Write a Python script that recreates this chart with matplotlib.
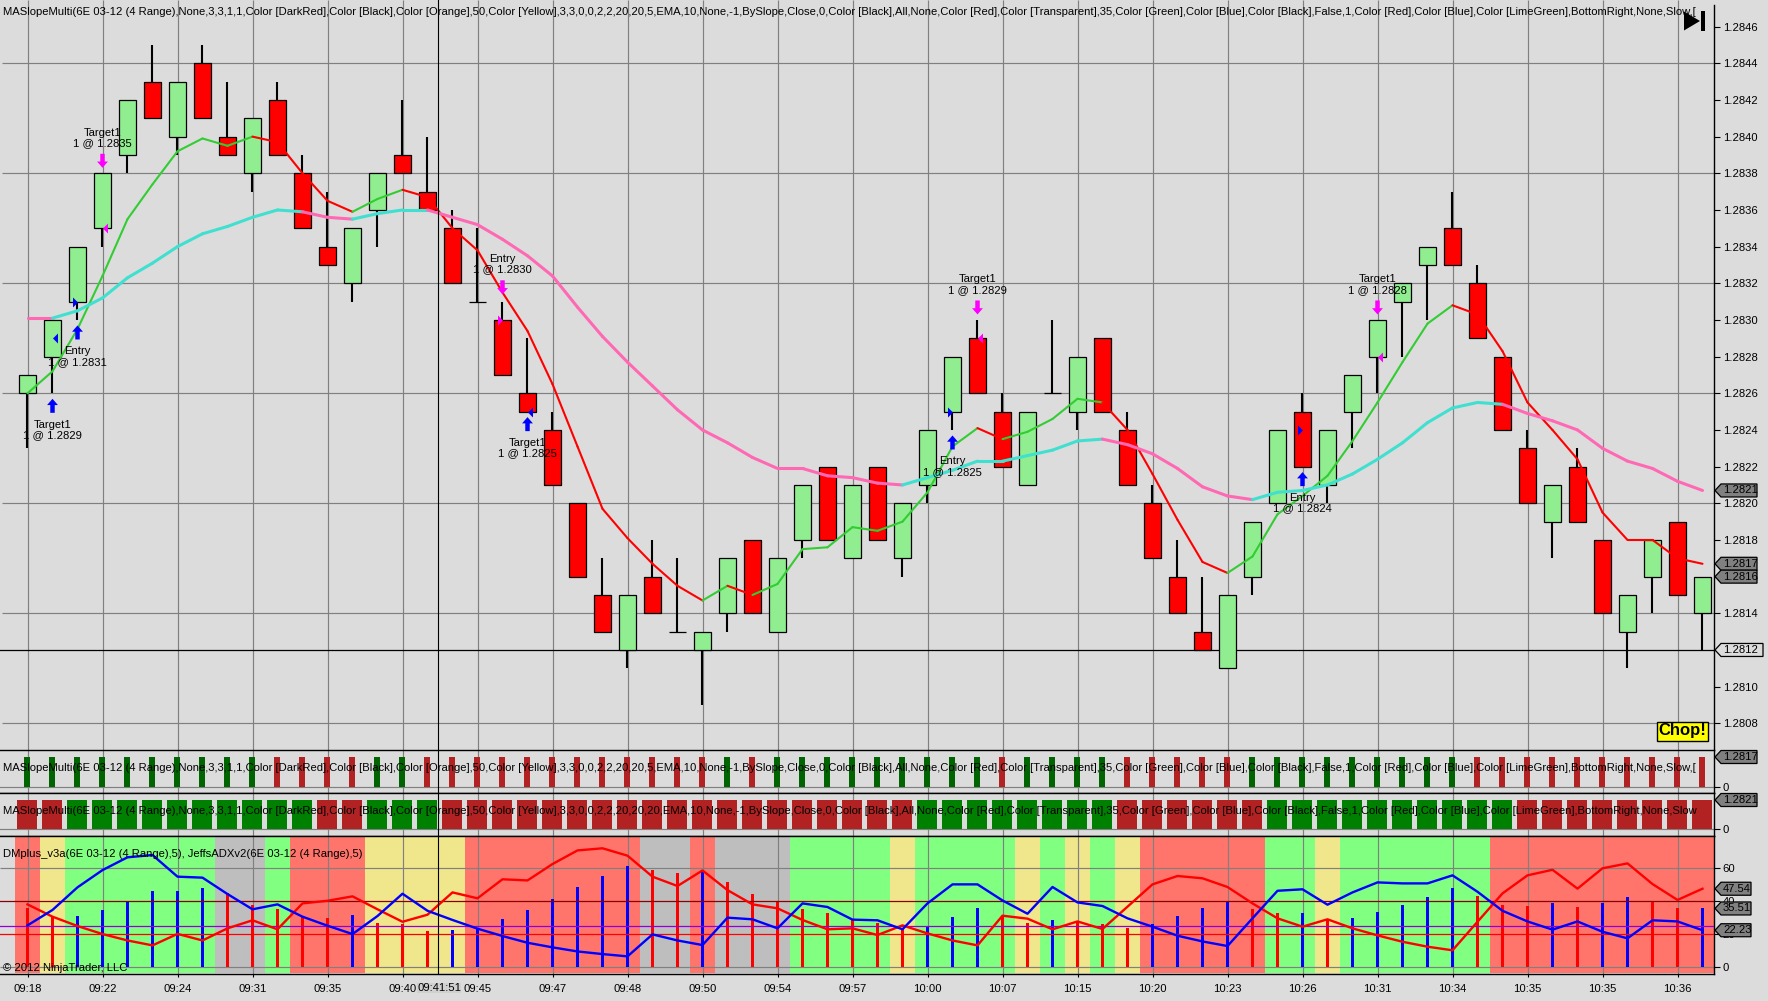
import numpy as np
import matplotlib
matplotlib.use('Agg')
import matplotlib.pyplot as plt
from matplotlib.patches import Polygon, Rectangle
from matplotlib.transforms import IdentityTransform

plt.rcParams['font.family'] = ['Liberation Sans', 'DejaVu Sans']
plt.rcParams['font.size'] = 8

# candles
opens = [1.2826, 1.2828, 1.2831, 1.2835, 1.2839, 1.2843, 1.2840, 1.2844, 1.2840, 1.2838, 1.2842, 1.2838,
         1.2834, 1.2832, 1.2836, 1.2839, 1.2837, 1.2835, 1.2831, 1.2830, 1.2826, 1.2824, 1.2820, 1.2815,
         1.2812, 1.2816, 1.2813, 1.2812, 1.2814, 1.2818, 1.2813, 1.2818, 1.2822, 1.2817, 1.2822, 1.2817,
         1.2821, 1.2825, 1.2829, 1.2825, 1.2821, 1.2826, 1.2825, 1.2829, 1.2824, 1.2820, 1.2816, 1.2813,
         1.2811, 1.2816, 1.2820, 1.2825, 1.2821, 1.2825, 1.2828, 1.2831, 1.2833, 1.2835, 1.2832, 1.2828,
         1.2823, 1.2819, 1.2822, 1.2818, 1.2813, 1.2816, 1.2819, 1.2814]
highs = [1.2827, 1.2830, 1.2834, 1.2838, 1.2842, 1.2845, 1.2843, 1.2845, 1.2843, 1.2841, 1.2843, 1.2839,
         1.2837, 1.2835, 1.2838, 1.2842, 1.2840, 1.2836, 1.2835, 1.2831, 1.2829, 1.2825, 1.2820, 1.2817,
         1.2815, 1.2818, 1.2817, 1.2813, 1.2817, 1.2818, 1.2817, 1.2821, 1.2822, 1.2821, 1.2822, 1.2820,
         1.2824, 1.2828, 1.2830, 1.2826, 1.2825, 1.2830, 1.2828, 1.2829, 1.2825, 1.2821, 1.2818, 1.2816,
         1.2815, 1.2819, 1.2824, 1.2826, 1.2824, 1.2827, 1.2830, 1.2832, 1.2834, 1.2837, 1.2833, 1.2828,
         1.2824, 1.2821, 1.2823, 1.2818, 1.2815, 1.2818, 1.2819, 1.2816]
lows = [1.2823, 1.2826, 1.2830, 1.2834, 1.2838, 1.2841, 1.2839, 1.2841, 1.2839, 1.2837, 1.2839, 1.2835,
        1.2833, 1.2831, 1.2834, 1.2838, 1.2836, 1.2832, 1.2831, 1.2827, 1.2825, 1.2821, 1.2816, 1.2813,
        1.2811, 1.2814, 1.2813, 1.2809, 1.2813, 1.2814, 1.2813, 1.2817, 1.2818, 1.2817, 1.2818, 1.2816,
        1.2820, 1.2824, 1.2826, 1.2822, 1.2821, 1.2826, 1.2824, 1.2825, 1.2821, 1.2817, 1.2814, 1.2812,
        1.2811, 1.2815, 1.2820, 1.2822, 1.2820, 1.2823, 1.2826, 1.2828, 1.2830, 1.2833, 1.2829, 1.2824,
        1.2820, 1.2817, 1.2819, 1.2814, 1.2811, 1.2814, 1.2815, 1.2812]
closes = [1.2827, 1.2830, 1.2834, 1.2838, 1.2842, 1.2841, 1.2843, 1.2841, 1.2839, 1.2841, 1.2839, 1.2835,
          1.2833, 1.2835, 1.2838, 1.2838, 1.2836, 1.2832, 1.2831, 1.2827, 1.2825, 1.2821, 1.2816, 1.2813,
          1.2815, 1.2814, 1.2813, 1.2813, 1.2817, 1.2814, 1.2817, 1.2821, 1.2818, 1.2821, 1.2818, 1.2820,
          1.2824, 1.2828, 1.2826, 1.2822, 1.2825, 1.2826, 1.2828, 1.2825, 1.2821, 1.2817, 1.2814, 1.2812,
          1.2815, 1.2819, 1.2824, 1.2822, 1.2824, 1.2827, 1.2830, 1.2832, 1.2834, 1.2833, 1.2829, 1.2824,
          1.2820, 1.2821, 1.2819, 1.2814, 1.2815, 1.2818, 1.2815, 1.2816]

# moving averages
fast_ma = [1.28260, 1.28272, 1.28295, 1.28324, 1.28355, 1.28374, 1.28392, 1.28399, 1.28395, 1.28400, 1.28397,
           1.28380, 1.28365, 1.28359, 1.28366, 1.28371, 1.28367, 1.28350, 1.28338, 1.28315, 1.28294, 1.28265,
           1.28231, 1.28197, 1.28181, 1.28167, 1.28155, 1.28147, 1.28155, 1.28150, 1.28156, 1.28175, 1.28176,
           1.28187, 1.28185, 1.28190, 1.28206, 1.28231, 1.28241, 1.28235, 1.28239, 1.28246, 1.28257, 1.28255,
           1.28240, 1.28216, 1.28191, 1.28168, 1.28162, 1.28171, 1.28194, 1.28204, 1.28215, 1.28234, 1.28255,
           1.28277, 1.28298, 1.28308, 1.28303, 1.28283, 1.28255, 1.28240, 1.28224, 1.28195, 1.28180, 1.28180,
           1.28170, 1.28167]
slow_ma = [1.28301, 1.28301, 1.28305, 1.28312, 1.28323, 1.28331, 1.28340, 1.28347, 1.28351, 1.28356, 1.28360,
           1.28359, 1.28356, 1.28355, 1.28358, 1.28360, 1.28360, 1.28356, 1.28352, 1.28344, 1.28335, 1.28324,
           1.28307, 1.28291, 1.28277, 1.28264, 1.28251, 1.28240, 1.28233, 1.28225, 1.28219, 1.28219, 1.28215,
           1.28214, 1.28211, 1.28210, 1.28214, 1.28218, 1.28223, 1.28223, 1.28226, 1.28229, 1.28234, 1.28235,
           1.28232, 1.28227, 1.28219, 1.28209, 1.28204, 1.28202, 1.28206, 1.28207, 1.28210, 1.28216, 1.28224,
           1.28233, 1.28244, 1.28252, 1.28255, 1.28254, 1.28249, 1.28245, 1.28240, 1.28230, 1.28223, 1.28219,
           1.28212, 1.28207]

# slope state per bar: U up, D down
fast_state = 'UUUUUUUUUUDDDDUUDDDDDDDDDDDDUDUUUUUUUUUDUUUUDDDDDUUUUUUUUUDDDDDDDDDD'
slow_state = 'DDUUUUUUUUUUDDUUUDDDDDDDDDDDDDDDDDDDUUUUUUUUDDDDDDUUUUUUUUUUDDDDDDDD'

# lower panel: R red, Y yellow, G green, S grey
band_state = 'RYGGGGGGSSGRRRYYYYRRRRRRRSSRSSSGGGGYGGGGYGYGYRRRRRGGYGGGGGGRRRRRRRRR'
di_red = [38, 30.5, 24.8, 19.9, 16, 13, 20, 16, 23.4, 28.3, 22.8, 38.6, 40.2, 42.9, 35, 27.4, 31.7, 45.3, 41.7,
          53.3, 52.6, 62.6, 70.9, 72.2, 67.7, 54.9, 49.2, 58.7, 46.7, 38, 35.6, 28.5, 22.8, 23.4, 19.3, 25.2,
          20.3, 16, 13, 31.1, 29.3, 22.8, 27.6, 23, 36.6, 50.2, 55.3, 53.9, 48.6, 38.6, 29.5, 24.4, 28.9, 23.4,
          19.1, 15.2, 12.2, 10, 27.4, 44.7, 55.7, 59.1, 47.6, 60, 63, 50.4, 40.7, 47.54]
di_blue = [25.2, 34.6, 48.4, 58.9, 66.7, 68.1, 54.9, 54.3, 44.3, 35, 38, 30.5, 25, 19.9, 30.9, 44.5, 34.1, 28.5,
           23.2, 18.7, 14.6, 11.8, 9.3, 7.7, 6.3, 19.7, 16, 13.2, 29.9, 28.9, 23.4, 38.6, 36.4, 28.7, 28.3, 22.8,
           38.6, 50.2, 50.2, 40.4, 32.3, 48.6, 39.2, 37, 29.5, 24.4, 18.9, 15.4, 12.6, 29.5, 46.3, 47.2, 37.8,
           45.3, 51.4, 50.8, 50.8, 55.7, 45.7, 34.1, 27.6, 22.6, 27.6, 21.3, 17.3, 28.3, 27.6, 22.23]
adx = [35.6, 30.5, 30.9, 34.6, 40.2, 46.1, 46.1, 48, 44.7, 37.6, 35.2, 30.1, 29.7, 31.5, 26.6, 26, 21.7, 22.4,
       23.4, 29.1, 34.6, 41.3, 48.6, 55.3, 61.4, 58.9, 56.9, 57.7, 51.4, 44.1, 39.2, 35.2, 32.5, 28.5, 26.4, 23.4,
       24, 30.1, 35.6, 31.1, 26.6, 28.3, 27.4, 25.8, 23.4, 25.8, 30.9, 35.6, 40.2, 35.2, 32.5, 32.5, 28.9, 29.5,
       33.3, 37.6, 42.3, 47.8, 42.9, 37.6, 37, 38.8, 36.4, 38.8, 42.3, 40, 35.8, 35.51]
adx_state = 'RRBBBBBBRRRRRBRRRBBBBBBBBRRBRRRRRRRRBBBRRBRRRBBBBRRBRBBBBBRRRBRBBRRB'

# fills on the chart
trade_bars = [1, 2, 3, 19, 20, 37, 38, 51, 54]
trade_prices = [1.28257, 1.28297, 1.28383, 1.28314, 1.28247, 1.28237, 1.28303, 1.28217, 1.28303]
trade_dirs = ['up', 'up', 'down', 'down', 'up', 'up', 'down', 'up', 'down']
trade_labels = ['Target1\n1 @ 1.2829', 'Entry\n1 @ 1.2831', 'Target1\n1 @ 1.2835', 'Entry\n1 @ 1.2830',
                'Target1\n1 @ 1.2825', 'Entry\n1 @ 1.2825', 'Target1\n1 @ 1.2829', 'Entry\n1 @ 1.2824',
                'Target1\n1 @ 1.2828']
exec_prices = [1.2829, 1.2831, 1.2835, 1.2830, 1.2825, 1.2825, 1.2829, 1.2824, 1.2828]
exec_sides = ['left', 'right', 'left', 'right', 'left', 'right', 'left', 'right', 'left']

time_labels = ['09:18', '09:22', '09:24', '09:31', '09:35', '09:40', '09:45', '09:47', '09:48', '09:50', '09:54',
               '09:57', '10:00', '10:07', '10:15', '10:20', '10:23', '10:26', '10:31', '10:34', '10:35', '10:35',
               '10:36']
price_ticks = [1.2808, 1.2810, 1.2812, 1.2814, 1.2816, 1.2818, 1.2820, 1.2822, 1.2824, 1.2826, 1.2828, 1.2830,
               1.2832, 1.2834, 1.2836, 1.2838, 1.2840, 1.2842, 1.2844, 1.2846]
price_grid = [1.2808, 1.2814, 1.2820, 1.2826, 1.2832, 1.2838, 1.2844]
dm_ticks = [0, 20, 40, 60]

params_a = ('(6E 03-12 (4 Range),None,3,3,1,1,Color [DarkRed],Color [Black],Color [Orange],50,Color [Yellow],'
            '3,3,0,0,2,2,20,20,5,EMA,10,None,-1,BySlope,Close,0,Color [Black],All,None,Color [Red],'
            'Color [Transparent],35,Color [Green],Color [Blue],Color [Black],False,1,Color [Red],Color [Blue],'
            'Color [LimeGreen],BottomRight,None,Slow,[')
title_top = 'MASlopeMulti' + params_a
title_mid = 'MASlopeMulti' + params_a.replace('20,20,5,EMA', '20,20,20,EMA').replace('Slow,[', 'Slow')
title_dm = 'DMplus_v3a(6E 03-12 (4 Range),5), JeffsADXv2(6E 03-12 (4 Range),5)'

BG = '#DCDCDC'
GRID = '#808080'
FS = 8.15
W, H = 1768, 1001
AX_R = 1714
n = len(closes)
x = np.arange(n)
xlim = ((0 - 27.5) / 25, (AX_R - 27.5) / 25)
cross_x = (438 - 27.5) / 25
grid_x = x[::3][:len(time_labels)]


def panel(top, bottom):
    ax = fig.add_axes([0, 1 - bottom / H, AX_R / W, (bottom - top) / H])
    ax.set_facecolor(BG)
    ax.set_xlim(xlim)
    ax.yaxis.tick_right()
    ax.tick_params(axis='y', length=4, width=0.8, pad=2.2, labelsize=FS, color='black')
    ax.tick_params(axis='x', length=2, width=0.8, labelbottom=False, bottom=False)
    ax.set_xticks(grid_x)
    ax.spines['left'].set_visible(False)
    for s in ['top', 'bottom', 'right']:
        ax.spines[s].set_linewidth(1.0)
    ax.grid(False)
    ax.vlines(grid_x, 0, 1, transform=ax.get_xaxis_transform(), color=GRID, lw=0.85, zorder=1)
    ax.axvline(cross_x, color='black', lw=0.8, zorder=9)
    return ax


def price_tag(ax, value, label, right, face):
    y = ax.transData.transform((0, value))[1]
    pts = [(1715, y), (1721, y + 6.5), (right, y + 6.5), (right, y - 6.5), (1721, y - 6.5)]
    fig.add_artist(Polygon(pts, closed=True, facecolor=face, edgecolor='black', lw=0.9,
                           transform=IdentityTransform(), zorder=5))
    fig.text(1723 / W, y / H, label, ha='left', va='center', fontsize=FS, color='black', zorder=6)


fig = plt.figure(figsize=(W / 100, H / 100), dpi=100, facecolor=BG)

# main price panel
ax = panel(0, 750)
ax.set_ylim(1.2844 - (750 - 63.3) / 183333, 1.2844 + 63.3 / 183333)
ax.hlines(price_grid, xlim[0] + 0.08, xlim[1], color=GRID, lw=0.85, zorder=1)
ax.axhline(1.2812, color='black', lw=0.9, zorder=2)
ax.spines['top'].set_visible(False)
ax.spines['bottom'].set_visible(False)
ax.spines['right'].set_bounds(ax.get_ylim()[0], 1.2844 + 58 / 183333)
ax.set_yticks(price_ticks)
ax.set_yticklabels(['%.4f' % p for p in price_ticks])

ax.vlines(x - 0.02, lows, highs, color='black', lw=1.5, zorder=3)
body_col = ['#90EE90' if c >= o else '#FF0000' for o, c in zip(opens, closes)]
body_low = np.minimum(opens, closes)
body_h = np.abs(np.array(closes) - np.array(opens))
ax.bar(x, body_h, bottom=body_low, width=0.66, color=body_col, edgecolor='black', linewidth=0.9, zorder=4)

for i in range(1, n):
    ax.plot(x[i - 1:i + 1], fast_ma[i - 1:i + 1], color='#32CD32' if fast_state[i] == 'U' else '#FF0000',
            lw=1.5, zorder=5, solid_capstyle='round')
    ax.plot(x[i - 1:i + 1], slow_ma[i - 1:i + 1], color='#40E0D0' if slow_state[i] == 'U' else '#FF69B4',
            lw=2.2, zorder=5, solid_capstyle='round')

for b, p, d, label in zip(trade_bars, trade_prices, trade_dirs, trade_labels):
    col = '#0000FF' if d == 'up' else '#FF00FF'
    tail = -14 if d == 'up' else 14
    ax.annotate('', xy=(b, p), xytext=(0, tail), textcoords='offset pixels', xycoords='data',
                arrowprops=dict(width=3.2, headwidth=7.8, headlength=4.5, color=col, shrink=0, lw=0), zorder=7)
    ax.annotate(label, xy=(b, p), xytext=(0, -31 if d == 'up' else 30), textcoords='offset pixels',
                ha='center', va='center', fontsize=FS, linespacing=1.05, color='black', zorder=8)

tri_left = [(-0.5, 0), (0.5, 1), (0.5, -1)]
tri_right = [(0.5, 0), (-0.5, 1), (-0.5, -1)]
for b, p, s in zip(trade_bars, exec_prices, exec_sides):
    col = '#0000FF' if trade_dirs[trade_bars.index(b)] == 'up' else '#FF00FF'
    off = 0.11 if s == 'left' else -0.11
    ax.plot([b + off], [p], marker=tri_left if s == 'left' else tri_right, ms=7.2, color=col, lw=0, mew=0, zorder=7)

ax.text(3 / AX_R, 1 - 12 / 750, title_top, transform=ax.transAxes, fontsize=FS, va='center', clip_on=True, zorder=8)
ax.text(1682.5 / AX_R, 1 - 731 / 750, 'Chop!', transform=ax.transAxes, fontsize=12, fontweight='bold',
        ha='center', va='center', color='black', zorder=10,
        bbox=dict(boxstyle='square,pad=0.12', facecolor='#FFFF00', edgecolor='black', lw=1.0))
fig.add_artist(Polygon([(1684 / W, 1 - 11.5 / H), (1684 / W, 1 - 30.5 / H), (1700 / W, 1 - 21 / H)], closed=True,
                       facecolor='black', edgecolor='none', transform=fig.transFigure, zorder=4))
fig.add_artist(Rectangle((1701 / W, 1 - 30.5 / H), 4 / W, 19 / H, facecolor='black', edgecolor='none',
                         transform=fig.transFigure, zorder=4))

# narrow slope bars
ax2 = panel(750, 793)
ax2.set_ylim(-6.3 / 29.7, 36.7 / 29.7)
ax2.axhline(0, color=GRID, lw=0.85, zorder=1)
ax2.bar(x - 0.02, np.ones(n), width=0.24, color=['#006400' if s == 'U' else '#B22222' for s in fast_state], zorder=3)
ax2.set_yticks([0])
ax2.set_yticklabels(['0'])
ax2.text(3 / AX_R, 1 - 18 / 43, title_top, transform=ax2.transAxes, fontsize=FS, va='center', clip_on=True, zorder=8)

# wide slope bars
ax3 = panel(793, 836)
ax3.set_ylim(-6.7 / 29.3, 36.3 / 29.3)
ax3.axhline(0, color=GRID, lw=0.85, zorder=1)
ax3.bar(x - 0.02, np.ones(n), width=0.8, color=['#008000' if s == 'U' else '#B22222' for s in slow_state], zorder=3)
ax3.set_yticks([0])
ax3.set_yticklabels(['0'])
ax3.text(3 / AX_R, 1 - 18 / 43, title_mid, transform=ax3.transAxes, fontsize=FS, va='center', clip_on=True, zorder=8)

# DM panel
ax4 = panel(836, 974)
ax4.set_ylim(-7.3 / 1.64, 130.7 / 1.64)
band_col = {'R': '#FF756B', 'Y': '#F0E68C', 'G': '#80FF80', 'S': '#BEBEBE'}
ax4.bar(x, 84.15, bottom=-3.9, width=1.0, color=[band_col[s] for s in band_state], linewidth=0, zorder=0.5)
ax4.hlines([0, 60], xlim[0], xlim[1], color=GRID, lw=0.85, zorder=1)
ax4.bar(x, adx, width=0.12, color=['#0000FF' if s == 'B' else '#FF0000' for s in adx_state], zorder=3)
ax4.axhline(40, color='#8B0000', lw=0.9, zorder=4)
ax4.axhline(25, color='#9400D3', lw=0.9, zorder=4)
ax4.axhline(20, color='#FF0000', lw=0.9, zorder=4)
ax4.plot(x, di_red, color='#FF0000', lw=1.7, zorder=5)
ax4.plot(x, di_blue, color='#0000FF', lw=1.7, zorder=5)
ax4.set_yticks(dm_ticks)
ax4.set_yticklabels([str(t) for t in dm_ticks])
ax4.text(3 / AX_R, 1 - 18 / 138, title_dm, transform=ax4.transAxes, fontsize=FS, va='center', clip_on=True, zorder=8)
ax4.text(3 / AX_R, 1 - 132 / 138, '\u00a9 2012 NinjaTrader, LLC', transform=ax4.transAxes, fontsize=FS, va='center',
         zorder=8)
ax4.tick_params(axis='x', bottom=True, labelbottom=True, pad=5, labelsize=FS)
ax4.set_xticks(grid_x)
ax4.set_xticklabels(time_labels)

fig.text(439 / W, 1 - 988 / H, '09:41:51', ha='center', va='center', fontsize=FS, color='black', zorder=0.5,
         bbox=dict(boxstyle='square,pad=0.02', facecolor='#D0D0D0', edgecolor='none'))

price_tag(ax, 1.28207, '1.2821', 1757, '#808080')
price_tag(ax, 1.28167, '1.2817', 1757, '#808080')
price_tag(ax, 1.2816, '1.2816', 1757, '#808080')
price_tag(ax, 1.2812, '1.2812', 1763, BG)
price_tag(ax2, 1.0, '1.2817', 1757, '#808080')
price_tag(ax3, 1.0, '1.2821', 1757, '#808080')
price_tag(ax4, 47.54, '47.54', 1751, '#808080')
price_tag(ax4, 35.51, '35.51', 1751, '#808080')
price_tag(ax4, 22.23, '22.23', 1751, '#808080')

fig.savefig('out.png', dpi=100, facecolor=BG)
